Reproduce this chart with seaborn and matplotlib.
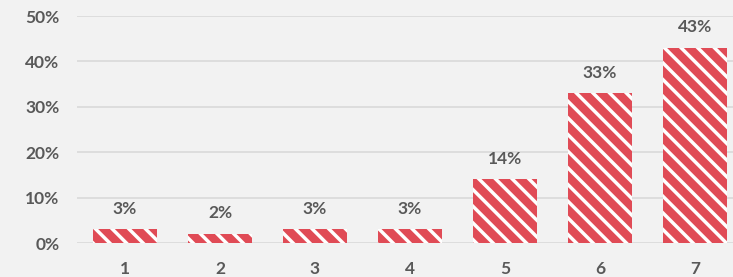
import matplotlib
matplotlib.use("Agg")
import matplotlib.pyplot as plt
import seaborn as sns
import pandas as pd
from matplotlib.ticker import PercentFormatter

# values
categories = ["1", "2", "3", "4", "5", "6", "7"]
shares = [0.03, 0.02, 0.03, 0.03, 0.14, 0.33, 0.43]
labels = ["3%", "2%", "3%", "3%", "14%", "33%", "43%"]

df = pd.DataFrame({"cat": categories, "share": shares})

sns.set_style("white")
plt.rcParams["font.family"] = ["Lato", "DejaVu Sans"]
plt.rcParams["hatch.linewidth"] = 2.5

bg = "#F2F2F2"
red = "#E04B56"
grey = "#595959"

fig = plt.figure(figsize=(7.33, 2.77), dpi=100, facecolor=bg)
ax = fig.add_axes([0.1057, 0.1227, 0.8943, 0.8195])
ax.set_facecolor(bg)

sns.barplot(data=df, x="cat", y="share", color=red, width=0.68,
            saturation=1, ax=ax, zorder=3)
for p in ax.patches:
    p.set_hatch("\\\\")
    p.set_edgecolor("white")
    p.set_linewidth(0)

for i, (v, t) in enumerate(zip(shares, labels)):
    ax.annotate(t, (i, v), xytext=(0, 9), textcoords="offset points",
                ha="center", va="bottom", fontsize=12.5, fontweight="bold",
                color=grey)

ax.set_ylim(0, 0.5)
ax.set_xlim(-0.5, 6.4)
ax.set_yticks([0, 0.1, 0.2, 0.3, 0.4, 0.5])
ax.yaxis.set_major_formatter(PercentFormatter(1.0, decimals=0))
ax.grid(axis="y", color="#D9D9D9", linewidth=1.2, zorder=0)
ax.set_axisbelow(True)
sns.despine(ax=ax, left=True, bottom=True)
ax.tick_params(axis="both", length=0, labelsize=12.5, labelcolor=grey)
ax.tick_params(axis="y", pad=13)
ax.tick_params(axis="x", pad=13)
for lab in ax.get_xticklabels() + ax.get_yticklabels():
    lab.set_fontweight("bold")
ax.set_xlabel("")
ax.set_ylabel("")

fig.savefig("out.png", dpi=100, facecolor=bg)
